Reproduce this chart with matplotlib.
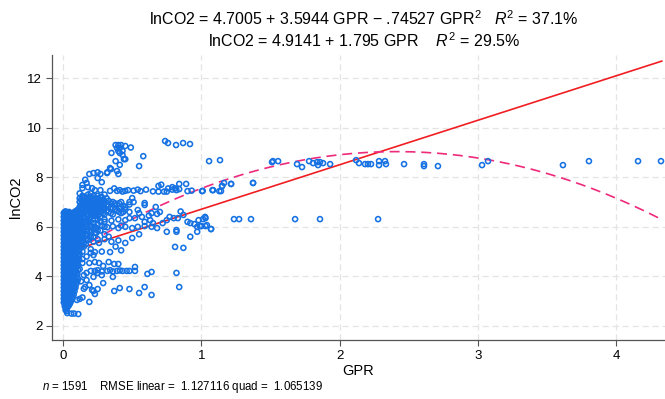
import numpy as np
import matplotlib
matplotlib.use("Agg")
import matplotlib.pyplot as plt

plt.rcParams['font.family'] = ['Liberation Sans', 'DejaVu Sans']
plt.rcParams['mathtext.fontset'] = 'custom'
plt.rcParams['mathtext.rm'] = 'Liberation Sans'
plt.rcParams['mathtext.it'] = 'Liberation Sans:italic'

# --- data ---
# fit coefficients printed in the title
quad_coef = [4.7005, 3.5944, -0.74527]
lin_coef = [4.9141, 1.795]
x_range = [0.0, 4.33]

# dense vertical band of points near GPR = 0 (one y list per x column)
band_x = [0.005, 0.018, 0.031, 0.044, 0.057, 0.07, 0.083, 0.096, 0.109]
band_y = [
    [2.95, 3.1, 3.25, 3.4, 3.55, 3.7, 3.85, 4.0, 4.15, 4.3, 4.45, 4.6, 4.75, 4.9, 5.05, 5.2, 5.35, 5.5, 5.65, 5.8, 5.95, 6.1, 6.25, 6.4, 6.55],
    [2.65, 2.8, 2.9, 3.05, 3.2, 3.35, 3.5, 3.65, 3.8, 3.95, 4.1, 4.25, 4.4, 4.55, 4.7, 4.85, 5.0, 5.15, 5.3, 5.45, 5.6, 5.75, 5.9, 6.05, 6.2, 6.35, 6.5, 6.62],
    [2.75, 2.95, 3.1, 3.25, 3.4, 3.55, 3.7, 3.85, 4.0, 4.15, 4.3, 4.45, 4.6, 4.75, 4.9, 5.05, 5.2, 5.35, 5.5, 5.65, 5.8, 5.95, 6.1, 6.25, 6.4, 6.55],
    [2.85, 3.0, 3.15, 3.3, 3.45, 3.6, 3.75, 3.9, 4.05, 4.2, 4.35, 4.5, 4.65, 4.8, 4.95, 5.1, 5.25, 5.4, 5.55, 5.7, 5.85, 6.0, 6.15, 6.3, 6.45, 6.6],
    [3.0, 3.2, 3.35, 3.5, 3.65, 3.8, 3.95, 4.1, 4.25, 4.4, 4.55, 4.7, 4.85, 5.0, 5.15, 5.3, 5.45, 5.6, 5.75, 5.9, 6.05, 6.2, 6.35, 6.5],
    [3.15, 3.35, 3.55, 3.7, 3.85, 4.0, 4.15, 4.3, 4.45, 4.6, 4.75, 4.9, 5.05, 5.2, 5.35, 5.5, 5.65, 5.8, 5.95, 6.1, 6.25, 6.4, 6.55],
    [3.4, 3.6, 3.8, 4.0, 4.2, 4.35, 4.5, 4.65, 4.8, 4.95, 5.1, 5.25, 5.4, 5.55, 5.7, 5.85, 6.0, 6.15, 6.3, 6.45, 6.6],
    [3.7, 3.95, 4.2, 4.4, 4.6, 4.8, 4.95, 5.1, 5.25, 5.4, 5.55, 5.7, 5.85, 6.0, 6.15, 6.3, 6.45, 6.65],
    [3.9, 4.25, 4.6, 4.85, 5.05, 5.25, 5.45, 5.65, 5.85, 6.05, 6.25, 6.45, 6.7],
]
# second, staggered set of columns inside the same band
band2_x = [0.012, 0.025, 0.038, 0.051, 0.064, 0.077, 0.09, 0.103]
band2_y = [
    [2.8, 3.0, 3.17, 3.32, 3.47, 3.62, 3.77, 3.92, 4.07, 4.22, 4.37, 4.52, 4.67, 4.82, 4.97, 5.12, 5.27, 5.42, 5.57, 5.72, 5.87, 6.02, 6.17, 6.32, 6.47, 6.6],
    [2.6, 2.72, 2.87, 3.02, 3.17, 3.32, 3.47, 3.62, 3.77, 3.92, 4.07, 4.22, 4.37, 4.52, 4.67, 4.82, 4.97, 5.12, 5.27, 5.42, 5.57, 5.72, 5.87, 6.02, 6.17, 6.32, 6.47, 6.6],
    [2.8, 2.92, 3.07, 3.22, 3.37, 3.52, 3.67, 3.82, 3.97, 4.12, 4.27, 4.42, 4.57, 4.72, 4.87, 5.02, 5.17, 5.32, 5.47, 5.62, 5.77, 5.92, 6.07, 6.22, 6.37, 6.52],
    [2.92, 3.08, 3.27, 3.42, 3.57, 3.72, 3.87, 4.02, 4.17, 4.32, 4.47, 4.62, 4.77, 4.92, 5.07, 5.22, 5.37, 5.52, 5.67, 5.82, 5.97, 6.12, 6.27, 6.42, 6.55],
    [3.08, 3.27, 3.45, 3.6, 3.77, 3.92, 4.07, 4.22, 4.37, 4.52, 4.67, 4.82, 4.97, 5.12, 5.27, 5.42, 5.57, 5.72, 5.87, 6.02, 6.17, 6.32, 6.47],
    [3.27, 3.5, 3.7, 3.9, 4.1, 4.27, 4.42, 4.57, 4.72, 4.87, 5.02, 5.17, 5.32, 5.47, 5.62, 5.77, 5.92, 6.07, 6.22, 6.37, 6.52],
    [3.55, 3.82, 4.08, 4.3, 4.5, 4.7, 4.87, 5.02, 5.17, 5.32, 5.47, 5.62, 5.77, 5.92, 6.07, 6.22, 6.37, 6.55],
    [3.8, 4.1, 4.4, 4.72, 4.95, 5.15, 5.35, 5.55, 5.75, 5.95, 6.15, 6.35, 6.58],
]

# crowded group around lnCO2 6.5-7.3
upper_x = [0.12, 0.14, 0.16, 0.18, 0.20, 0.22, 0.24, 0.26, 0.28, 0.30, 0.33, 0.36, 0.39, 0.42, 0.45, 0.48,
           0.13, 0.15, 0.17, 0.19, 0.21, 0.23, 0.25, 0.27, 0.29, 0.315, 0.345, 0.375, 0.405, 0.435]
upper_y = [
    [6.6, 6.8, 7.0, 7.15],
    [6.5, 6.7, 6.9, 7.1, 7.25],
    [6.6, 6.8, 7.0, 7.2],
    [6.5, 6.7, 6.9, 7.1, 7.3],
    [6.6, 6.8, 7.0, 7.2],
    [6.45, 6.65, 6.85, 7.05, 7.25],
    [6.55, 6.75, 6.95, 7.15],
    [6.5, 6.7, 6.9, 7.1],
    [6.6, 6.8, 7.0, 7.2],
    [6.5, 6.75, 6.95],
    [6.6, 6.85, 7.05],
    [6.5, 6.75, 7.0],
    [6.65, 6.9],
    [6.55, 6.8, 7.0],
    [6.7],
    [6.6, 6.9],
    [6.45, 6.7, 6.9, 7.1],
    [6.6, 6.8, 7.0, 7.2],
    [6.5, 6.7, 6.9, 7.1],
    [6.6, 6.8, 7.0, 7.2],
    [6.5, 6.7, 6.9, 7.1],
    [6.55, 6.75, 6.95, 7.15],
    [6.45, 6.65, 6.85, 7.05, 7.25],
    [6.6, 6.8, 7.0, 7.2],
    [6.55, 6.75, 6.9, 7.1],
    [6.65, 6.9, 7.15],
    [6.55, 6.75, 6.95],
    [6.7, 6.95],
    [6.6, 6.75, 6.95],
    [6.6, 6.85],
]

# crowded group just right of the band, lnCO2 4.7-6.6
mid_x = [0.115, 0.13, 0.15, 0.175, 0.2, 0.23, 0.27]
mid_y = [
    [4.7, 5.0, 5.2, 5.45, 5.7, 5.9, 6.1, 6.35, 6.55],
    [5.2, 5.4, 5.6, 5.75, 5.95, 6.15, 6.35],
    [5.35, 5.55, 5.75, 5.95, 6.15, 6.4],
    [5.45, 5.65, 5.85, 6.0, 6.25, 6.45],
    [5.6, 5.8, 6.2, 6.5],
    [5.75, 6.0, 6.3, 6.45],
    [5.85, 6.2, 6.4],
]

# individual points
points = [
    # high group
    (0.38, 9.30), (0.40, 9.30), (0.42, 9.30), (0.45, 9.26), (0.49, 9.20), (0.39, 9.18),
    (0.41, 9.18), (0.40, 9.06), (0.43, 9.06), (0.41, 8.98), (0.43, 8.90), (0.44, 8.73),
    (0.35, 8.98), (0.38, 8.65), (0.41, 8.50), (0.58, 8.85), (0.55, 8.45), (0.45, 8.73),
    (0.738, 9.46), (0.759, 9.38), (0.817, 9.30), (0.868, 9.38), (0.918, 9.34),
    (0.347, 8.33), (0.318, 8.17), (0.39, 8.25),
    # 7.4 - 8.2
    (0.19, 8.13), (0.22, 8.17), (0.25, 8.20), (0.27, 8.13), (0.25, 7.97), (0.28, 7.80),
    (0.16, 7.90), (0.17, 7.77), (0.14, 7.69), (0.14, 7.56), (0.18, 7.60), (0.21, 7.56),
    (0.23, 7.48), (0.27, 7.48), (0.34, 8.37), (0.32, 8.20), (0.40, 8.13), (0.34, 7.45),
    (0.43, 7.42), (0.47, 7.48), (0.12, 7.35), (0.20, 7.35), (0.30, 7.30), (0.37, 7.55),
    (0.39, 7.45), (0.41, 7.48), (0.45, 7.45), (0.51, 7.46), (0.54, 7.50), (0.56, 7.44),
    (0.60, 7.50), (0.65, 7.43), (0.69, 7.42), (0.73, 7.42), (0.75, 7.42), (0.79, 7.50),
    (0.81, 7.55), (0.82, 7.48), (0.84, 7.52), (0.89, 7.73), (0.90, 7.44), (0.93, 7.46),
    (1.01, 7.45), (1.08, 7.48), (1.13, 7.44), (0.71, 7.70), (0.76, 7.55), (0.69, 7.65),
    (0.79, 7.60), (0.84, 7.73), (0.50, 7.16), (0.48, 7.00), (0.59, 6.96), (0.64, 6.55),
    (1.005, 7.44), (1.15, 7.65), (1.164, 7.77), (1.215, 7.73), (1.374, 7.77),
    # 5.8 - 7.0 towards the right
    (0.45, 6.80), (0.51, 7.00), (0.54, 6.68), (0.59, 6.88), (0.67, 6.80), (0.68, 6.52),
    (0.45, 6.27), (0.48, 6.35), (0.52, 6.35), (0.57, 6.40), (0.59, 6.20), (0.63, 6.27),
    (0.65, 6.15), (0.45, 6.00), (0.50, 5.95), (0.54, 6.00), (0.59, 6.03), (0.64, 6.00),
    (0.68, 5.95), (0.72, 6.15), (0.75, 6.27), (0.77, 6.40), (0.80, 6.35), (0.83, 6.35),
    (0.87, 6.48), (0.90, 6.20), (0.92, 6.15), (0.95, 6.11), (0.97, 6.00), (0.98, 6.27),
    (1.03, 6.35), (1.00, 6.03), (1.04, 6.07), (1.07, 5.91), (0.75, 5.80), (0.82, 5.80),
    (0.97, 5.80), (0.92, 5.60), (0.81, 5.19), (0.87, 5.15), (0.82, 5.87), (0.55, 6.55),
    (0.62, 6.45), (0.70, 6.60), (0.85, 6.62), (0.40, 6.30), (0.35, 6.25), (0.30, 6.20),
    (0.25, 6.30), (0.20, 6.40), (0.20, 6.00), (0.24, 5.95), (0.28, 6.05), (0.32, 5.98),
    (0.36, 6.02), (0.40, 5.95), (0.42, 6.05),
    # 4.9 - 6.4 near the band
    (0.12, 4.90), (0.12, 5.10), (0.12, 5.30), (0.12, 5.55), (0.12, 5.80), (0.12, 6.00),
    (0.12, 6.20), (0.12, 6.45), (0.14, 5.00), (0.14, 5.25), (0.14, 5.45), (0.14, 5.65),
    (0.14, 5.85), (0.14, 6.05), (0.14, 6.25), (0.14, 6.50), (0.165, 5.30), (0.165, 5.50),
    (0.165, 5.70), (0.165, 6.10), (0.165, 6.35), (0.19, 5.60), (0.19, 5.85), (0.19, 6.10),
    (0.19, 6.30), (0.22, 5.60), (0.22, 5.90), (0.22, 6.15), (0.25, 5.50), (0.25, 5.85),
    (0.25, 6.10), (0.30, 5.70), (0.30, 6.00), (0.30, 6.30), (0.18, 5.50), (0.22, 5.40),
    (0.26, 5.35), (0.30, 5.50), (0.35, 5.40), (0.40, 5.45), (0.45, 5.35), (0.33, 5.60),
    (0.15, 5.20), (0.20, 5.10), (0.28, 5.00), (0.38, 5.20), (0.42, 5.05), (0.14, 5.70),
    (0.24, 5.75), (0.50, 5.55), (0.55, 5.70), (0.13, 6.10), (0.18, 6.20),
    # 4.0 - 5.0
    (0.20, 4.95), (0.22, 4.86), (0.23, 4.98), (0.34, 4.98), (0.11, 4.46), (0.14, 4.54),
    (0.19, 4.54), (0.23, 4.58), (0.26, 4.54), (0.29, 4.42), (0.33, 4.58), (0.37, 4.50),
    (0.40, 4.50), (0.43, 4.22), (0.20, 4.22), (0.23, 4.22), (0.25, 4.25), (0.28, 4.20),
    (0.32, 4.22), (0.34, 4.25), (0.36, 4.20), (0.39, 4.22), (0.41, 4.24), (0.46, 4.22),
    (0.48, 4.22), (0.52, 4.22), (0.52, 4.38), (0.61, 4.10), (0.64, 4.18), (0.82, 4.14),
    (0.15, 4.05), (0.17, 4.14), (0.22, 3.98), (0.25, 4.14), (0.28, 4.05), (0.29, 3.73),
    (0.36, 3.98), (0.12, 4.30), (0.14, 4.70), (0.17, 4.80), (0.13, 3.80), (0.17, 3.85),
    # below 4.0
    (0.16, 3.57), (0.19, 3.65), (0.22, 3.41), (0.23, 3.29), (0.25, 3.49), (0.19, 2.97),
    (0.12, 3.09), (0.10, 3.05), (0.37, 3.41), (0.41, 3.53), (0.48, 3.49), (0.55, 3.33),
    (0.59, 3.57), (0.64, 3.25), (0.84, 3.57), (0.15, 3.50), (0.21, 3.45), (0.14, 3.15),
    (0.03, 2.52), (0.06, 2.50), (0.08, 2.50), (0.11, 2.48),
    # sparse points right of 1
    (1.056, 8.65), (1.135, 8.69), (1.511, 8.61), (1.518, 8.65), (1.555, 8.65),
    (1.692, 8.53), (1.728, 8.41), (1.779, 8.65), (1.808, 8.57), (1.837, 8.61),
    (1.844, 8.49), (1.858, 8.61), (1.880, 8.57), (1.931, 8.53), (2.119, 8.69),
    (2.140, 8.57), (2.184, 8.53), (2.205, 8.53), (2.227, 8.53), (2.285, 8.65),
    (2.285, 8.49), (2.328, 8.65), (2.335, 8.53), (2.466, 8.53), (2.610, 8.53),
    (2.610, 8.45), (2.711, 8.45), (3.030, 8.49), (3.073, 8.65), (3.615, 8.49),
    (3.803, 8.65), (4.158, 8.65), (4.324, 8.65),
    (1.085, 7.48), (1.142, 7.44), (1.150, 7.65), (1.215, 7.73), (1.374, 7.77),
    (1.012, 6.31), (1.027, 6.40), (1.236, 6.31), (1.273, 6.31), (1.359, 6.31),
    (1.678, 6.31), (1.858, 6.31), (2.278, 6.31), (0.99, 6.03), (1.03, 6.03), (1.07, 5.91),
]

title_lines = [
    r"lnCO2 = 4.7005 + 3.5944 GPR $-$ .74527 GPR$^2$   $R^2$ = 37.1%",
    r"lnCO2 = 4.9141 + 1.795 GPR    $R^2$ = 29.5%",
]
note = r"$n$ = 1591    RMSE linear =  1.127116 quad =  1.065139"

# --- figure ---
fig = plt.figure(figsize=(6.65, 3.99), dpi=100)
ax = fig.add_axes([0.0782, 0.148, 0.9218, 0.714])

blue = '#1672e2'
mk = dict(s=13, facecolors='none', edgecolors=blue, linewidths=1.15, zorder=3)

for cols_x, cols_y in [(band_x, band_y), (band2_x, band2_y), (upper_x, upper_y), (mid_x, mid_y)]:
    for x, ys in zip(cols_x, cols_y):
        ax.scatter([x] * len(ys), ys, **mk)
px, py = zip(*points)
ax.scatter(px, py, **mk)

xf = np.linspace(x_range[0], x_range[1], 200)
ax.plot(xf, lin_coef[0] + lin_coef[1] * xf, color='#f01e23', lw=1.2, zorder=2)
ax.plot(xf, quad_coef[0] + quad_coef[1] * xf + quad_coef[2] * xf ** 2,
        color='#ee2a7b', lw=1.2, ls=(0, (6, 3.5)), zorder=2)

ax.set_xlim(-0.08, 4.353)
ax.set_ylim(1.435, 12.93)
ax.set_xticks([0, 1, 2, 3, 4])
ax.set_yticks([2, 4, 6, 8, 10, 12])
ax.grid(True, color='#e4e4e4', ls=(0, (5, 3)), lw=0.9, zorder=0)
ax.set_axisbelow(True)
for s in ['top', 'right']:
    ax.spines[s].set_visible(False)
for s in ['left', 'bottom']:
    ax.spines[s].set_color('#555555')
    ax.spines[s].set_linewidth(0.9)
ax.tick_params(axis='both', length=4, width=0.8, color='#555555', labelsize=9.5, pad=3)
ax.set_xlabel('GPR', fontsize=10.5, labelpad=2)
ax.set_ylabel('lnCO2', fontsize=10.5, labelpad=3)

fig.text(0.547, 0.953, title_lines[0], ha='center', va='center', fontsize=11.5)
fig.text(0.547, 0.898, title_lines[1], ha='center', va='center', fontsize=11.5)
fig.text(0.063, 0.03, note, ha='left', va='center', fontsize=8.3)

fig.savefig('out.png', dpi=100)
